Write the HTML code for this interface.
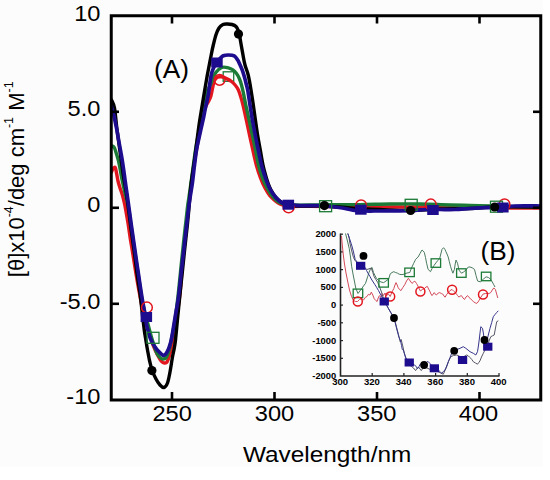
<!DOCTYPE html>
<html><head><meta charset="utf-8"><style>
html,body{margin:0;padding:0;background:#fff;width:550px;height:480px;overflow:hidden;}
svg{display:block;}
text{font-family:"Liberation Sans",sans-serif;fill:#000;}
.tl{font-size:22.5px;}
.xl{font-size:22px;}
.pl{font-size:25.1px;}
.pl2{font-size:24px;}
.yl{font-size:21.5px;}
.sup{font-size:12.2px;}
.it{font-size:8.5px;font-weight:bold;}
</style></head><body>
<svg width="550" height="480" viewBox="0 0 550 480">
<rect width="550" height="480" fill="#fff"/>
<rect width="543" height="466.5" fill="#fcfcfc"/>
<defs><clipPath id="pc"><rect x="111.25" y="15.75" width="429.5" height="384.25"/></clipPath></defs>
<g clip-path="url(#pc)"><rect x="223.2" y="71.8" width="10.5" height="9.5" fill="none" stroke="#1b7a36" stroke-width="1.3"/><path d="M111.5,172.0 C111.8,171.3 112.9,168.7 113.5,168.0 C114.1,167.3 114.8,166.8 115.3,167.6 C115.8,168.4 116.0,170.8 116.5,173.0 C117.0,175.2 117.4,178.5 118.0,181.0 C118.6,183.5 119.3,185.7 120.0,188.0 C120.7,190.3 121.6,192.2 122.4,195.0 C123.2,197.8 123.9,200.5 124.8,205.0 C125.7,209.5 126.8,216.2 127.8,222.0 C128.8,227.8 129.6,234.5 130.5,240.0 C131.4,245.5 132.1,249.2 133.0,255.0 C133.9,260.8 135.1,268.7 136.2,275.0 C137.3,281.3 138.3,287.2 139.4,293.0 C140.5,298.8 141.4,304.5 142.8,310.0 C144.2,315.5 146.3,321.0 147.7,326.0 C149.1,331.0 149.9,335.8 151.2,340.0 C152.5,344.2 154.2,347.8 155.6,351.0 C157.0,354.2 158.7,357.1 159.8,359.0 C161.0,360.9 161.7,361.6 162.5,362.3 C163.3,363.0 163.8,363.1 164.6,363.0 C165.3,362.9 166.2,363.2 167.0,362.0 C167.8,360.8 168.7,358.0 169.3,356.0 C170.0,354.0 170.4,352.2 170.9,350.0 C171.4,347.8 171.8,345.3 172.3,343.0 C172.8,340.7 173.3,339.0 173.8,336.0 C174.3,333.0 174.9,328.8 175.5,325.0 C176.1,321.2 176.7,317.2 177.3,313.0 C177.9,308.8 178.6,304.7 179.2,300.0 C179.8,295.3 180.2,291.3 180.8,285.0 C181.4,278.7 181.9,269.8 182.6,262.0 C183.3,254.2 184.4,245.7 185.2,238.0 C186.0,230.3 186.7,222.7 187.4,216.0 C188.1,209.3 188.8,204.0 189.6,198.0 C190.4,192.0 191.2,186.0 192.0,180.0 C192.8,174.0 193.7,167.5 194.5,162.0 C195.3,156.5 196.1,152.2 197.0,147.0 C197.9,141.8 199.0,136.2 200.0,131.0 C201.0,125.8 202.0,120.2 203.0,116.0 C204.0,111.8 205.1,108.5 206.0,106.0 C206.9,103.5 207.9,102.7 208.7,101.0 C209.5,99.3 210.2,98.3 210.9,96.0 C211.6,93.7 212.2,89.6 212.8,87.0 C213.4,84.4 213.7,82.1 214.5,80.5 C215.3,78.9 216.3,77.8 217.5,77.2 C218.7,76.6 220.0,76.6 221.5,76.8 C223.0,77.0 224.8,77.8 226.5,78.6 C228.2,79.4 230.0,80.3 231.5,81.5 C233.0,82.7 234.3,84.1 235.5,85.5 C236.7,86.9 237.5,88.1 238.4,90.0 C239.3,91.9 240.0,94.5 240.8,97.0 C241.6,99.5 242.1,101.2 243.0,105.0 C243.9,108.8 245.2,115.0 246.3,120.0 C247.4,125.0 248.4,130.0 249.5,135.0 C250.6,140.0 251.7,145.0 252.8,150.0 C253.9,155.0 255.0,160.3 256.3,165.0 C257.6,169.7 259.1,174.2 260.5,178.0 C261.9,181.8 263.3,184.9 265.0,188.0 C266.7,191.1 268.4,194.1 270.5,196.5 C272.6,198.9 275.2,201.0 277.5,202.5 C279.8,204.0 281.9,204.8 284.0,205.5 C286.1,206.2 285.7,206.4 290.0,206.5 C294.3,206.6 303.3,206.3 310.0,206.3 C316.7,206.3 324.2,206.4 330.0,206.5 C335.8,206.6 340.0,206.9 345.0,207.0 C350.0,207.1 352.5,207.0 360.0,207.0 C367.5,207.0 380.0,207.0 390.0,207.0 C400.0,207.0 410.0,207.0 420.0,207.0 C430.0,207.0 441.7,206.8 450.0,206.8 C458.3,206.8 463.3,206.8 470.0,206.8 C476.7,206.8 483.3,206.8 490.0,207.0 C496.7,207.2 501.5,207.8 510.0,208.0 C518.5,208.2 535.8,208.0 541.0,208.0" fill="none" stroke="#e2161e" stroke-width="3.4" stroke-linejoin="round" stroke-linecap="round"/><path d="M112.5,146.0 C112.8,146.3 113.8,146.7 114.5,148.0 C115.2,149.3 115.8,151.8 116.5,154.0 C117.2,156.2 117.9,158.3 118.5,161.0 C119.1,163.7 119.7,166.8 120.3,170.0 C120.9,173.2 121.4,176.7 122.1,180.0 C122.8,183.3 123.5,186.7 124.3,190.0 C125.1,193.3 126.0,196.7 126.8,200.0 C127.6,203.3 128.2,205.8 128.9,210.0 C129.6,214.2 130.1,218.3 131.0,225.0 C131.9,231.7 133.4,241.7 134.6,250.0 C135.8,258.3 137.1,266.7 138.3,275.0 C139.6,283.3 140.9,293.2 142.1,300.0 C143.3,306.8 144.6,311.8 145.6,316.0 C146.6,320.2 147.5,322.3 148.2,325.0 C148.9,327.7 149.4,329.7 150.0,332.0 C150.6,334.3 151.3,336.7 152.0,339.0 C152.7,341.3 153.5,343.6 154.3,346.0 C155.1,348.4 156.0,351.5 157.0,353.5 C158.0,355.5 159.4,357.1 160.5,358.0 C161.6,358.9 162.5,359.1 163.5,359.0 C164.5,358.9 165.5,358.7 166.3,357.5 C167.1,356.3 167.8,354.2 168.5,352.0 C169.2,349.8 169.8,347.3 170.4,344.5 C171.0,341.7 171.5,339.1 172.3,335.0 C173.1,330.9 174.2,325.5 175.0,320.0 C175.8,314.5 176.6,308.3 177.3,302.0 C178.1,295.7 178.8,288.7 179.5,282.0 C180.2,275.3 180.8,268.5 181.5,262.0 C182.2,255.5 182.8,249.2 183.5,243.0 C184.2,236.8 184.8,231.0 185.5,225.0 C186.2,219.0 186.8,212.8 187.5,207.0 C188.2,201.2 189.1,196.5 190.0,190.0 C190.9,183.5 192.1,174.7 193.0,168.0 C193.9,161.3 194.7,155.3 195.5,150.0 C196.3,144.7 197.2,140.0 198.0,136.0 C198.8,132.0 199.7,129.7 200.5,126.0 C201.3,122.3 202.2,118.7 203.0,114.0 C203.8,109.3 204.8,101.8 205.5,98.0 C206.2,94.2 206.4,93.2 207.2,91.0 C208.0,88.8 209.4,86.9 210.3,85.0 C211.2,83.1 211.6,81.6 212.5,79.5 C213.4,77.4 214.3,74.5 215.8,72.5 C217.3,70.5 219.8,68.3 221.7,67.5 C223.6,66.7 225.7,67.2 227.5,67.6 C229.3,68.0 231.0,68.7 232.5,69.7 C234.0,70.7 235.3,72.0 236.5,73.5 C237.7,75.0 238.7,77.1 239.5,79.0 C240.3,80.9 240.9,82.8 241.5,85.0 C242.1,87.2 242.5,88.7 243.2,92.0 C243.9,95.3 244.8,100.3 245.8,105.0 C246.8,109.7 248.0,115.0 249.1,120.0 C250.2,125.0 251.2,130.0 252.3,135.0 C253.4,140.0 254.5,145.0 255.5,150.0 C256.5,155.0 257.3,160.3 258.5,165.0 C259.7,169.7 261.1,174.2 262.5,178.0 C263.9,181.8 265.3,184.9 267.0,188.0 C268.7,191.1 270.6,194.2 272.5,196.5 C274.4,198.8 276.4,200.7 278.5,202.0 C280.6,203.3 282.8,204.0 285.0,204.5 C287.2,205.0 287.8,204.9 292.0,205.0 C296.2,205.1 303.7,205.1 310.0,205.0 C316.3,204.9 321.7,204.7 330.0,204.6 C338.3,204.5 350.0,204.7 360.0,204.6 C370.0,204.5 380.0,204.1 390.0,204.0 C400.0,203.9 410.0,203.8 420.0,204.0 C430.0,204.2 441.7,204.8 450.0,205.0 C458.3,205.2 463.3,205.3 470.0,205.5 C476.7,205.7 483.3,205.8 490.0,206.0 C496.7,206.2 501.5,206.3 510.0,206.5 C518.5,206.7 535.8,206.9 541.0,207.0" fill="none" stroke="#1b7a36" stroke-width="3.4" stroke-linejoin="round" stroke-linecap="round"/><path d="M111.5,100.0 C112.0,101.3 113.6,103.3 114.5,108.0 C115.4,112.7 115.9,121.0 116.8,128.0 C117.7,135.0 118.7,142.2 119.8,150.0 C120.9,157.8 122.2,167.5 123.3,175.0 C124.4,182.5 125.4,186.7 126.6,195.0 C127.8,203.3 129.3,215.8 130.5,225.0 C131.7,234.2 132.9,241.7 134.0,250.0 C135.1,258.3 136.2,267.5 137.2,275.0 C138.2,282.5 139.3,287.8 140.2,295.0 C141.1,302.2 142.1,312.0 142.8,318.0 C143.5,324.0 143.9,327.2 144.4,331.0 C144.9,334.8 145.5,337.8 146.0,341.0 C146.5,344.2 146.9,346.8 147.5,350.0 C148.1,353.2 148.7,356.7 149.4,360.0 C150.2,363.3 150.9,366.8 152.0,370.0 C153.1,373.2 154.7,376.5 156.0,379.0 C157.3,381.5 158.7,383.6 160.0,385.0 C161.3,386.4 162.8,387.8 164.0,387.5 C165.2,387.2 166.5,385.6 167.5,383.0 C168.5,380.4 169.2,376.2 170.0,372.0 C170.8,367.8 171.6,362.0 172.3,358.0 C173.0,354.0 173.8,351.0 174.3,348.0 C174.8,345.0 175.0,344.7 175.5,340.0 C176.0,335.3 176.8,326.7 177.4,320.0 C178.1,313.3 178.6,307.5 179.4,300.0 C180.2,292.5 181.1,283.3 182.0,275.0 C182.9,266.7 183.8,257.5 184.6,250.0 C185.4,242.5 186.1,236.3 186.8,230.0 C187.5,223.7 187.9,219.5 188.6,212.0 C189.3,204.5 190.0,193.7 191.0,185.0 C192.0,176.3 193.4,168.3 194.5,160.0 C195.6,151.7 196.8,142.0 197.7,135.0 C198.6,128.0 199.1,124.2 200.1,118.0 C201.1,111.8 202.3,104.7 203.4,98.0 C204.5,91.3 206.0,82.7 206.8,78.0 C207.6,73.3 207.6,73.8 208.3,70.0 C209.0,66.2 210.4,59.2 211.2,55.0 C212.0,50.8 212.5,48.3 213.3,45.0 C214.1,41.7 215.0,37.8 215.9,35.0 C216.8,32.2 217.8,29.8 219.0,28.0 C220.2,26.2 221.6,25.2 223.0,24.5 C224.4,23.8 226.0,24.0 227.5,24.0 C229.0,24.0 230.6,24.1 232.0,24.5 C233.4,24.9 234.9,25.4 236.0,26.5 C237.1,27.6 237.8,29.1 238.5,31.0 C239.2,32.9 239.6,35.7 240.0,38.0 C240.4,40.3 240.7,42.2 241.2,45.0 C241.7,47.8 242.4,51.7 243.0,55.0 C243.6,58.3 244.1,61.7 245.0,65.0 C245.9,68.3 247.2,70.8 248.2,75.0 C249.2,79.2 250.2,85.0 251.0,90.0 C251.8,95.0 252.6,100.0 253.3,105.0 C254.0,110.0 254.7,115.0 255.4,120.0 C256.1,125.0 256.8,130.0 257.6,135.0 C258.4,140.0 259.4,145.0 260.3,150.0 C261.2,155.0 262.1,160.8 263.0,165.0 C263.9,169.2 264.7,172.0 265.5,175.0 C266.3,178.0 267.1,180.5 268.0,183.0 C268.9,185.5 269.7,187.6 271.0,190.0 C272.3,192.4 274.2,195.4 276.0,197.5 C277.8,199.6 280.0,201.2 282.0,202.5 C284.0,203.8 285.0,204.4 288.0,205.0 C291.0,205.6 293.8,205.8 300.0,206.0 C306.2,206.2 316.7,205.7 325.0,206.0 C333.3,206.3 340.8,207.4 350.0,208.0 C359.2,208.6 370.0,209.1 380.0,209.5 C390.0,209.9 400.0,210.6 410.0,210.5 C420.0,210.4 430.0,209.3 440.0,209.0 C450.0,208.7 460.7,208.8 470.0,208.5 C479.3,208.2 484.2,207.2 496.0,207.0 C507.8,206.8 533.5,207.0 541.0,207.0" fill="none" stroke="#000000" stroke-width="3.4" stroke-linejoin="round" stroke-linecap="round"/><path d="M111.5,107.0 C111.9,108.5 113.2,112.5 114.0,116.0 C114.8,119.5 115.7,124.0 116.5,128.0 C117.3,132.0 117.6,134.3 118.6,140.0 C119.6,145.7 121.4,155.0 122.5,162.0 C123.6,169.0 124.5,176.0 125.3,182.0 C126.1,188.0 126.6,190.8 127.6,198.0 C128.6,205.2 130.1,216.3 131.3,225.0 C132.5,233.7 133.7,241.7 134.9,250.0 C136.1,258.3 137.3,266.7 138.6,275.0 C139.8,283.3 141.4,294.2 142.4,300.0 C143.4,305.8 143.8,307.0 144.3,310.0 C144.8,313.0 145.1,315.5 145.5,318.0 C145.9,320.5 146.2,322.8 146.6,325.0 C147.0,327.2 147.6,328.9 148.2,331.0 C148.8,333.1 149.2,335.4 150.0,337.5 C150.8,339.6 151.9,341.8 152.8,343.5 C153.7,345.2 154.6,346.4 155.6,347.8 C156.6,349.2 157.8,350.6 159.0,351.8 C160.2,353.1 161.9,354.9 163.0,355.3 C164.1,355.7 164.9,355.0 165.8,354.0 C166.7,353.0 167.5,351.3 168.3,349.5 C169.1,347.7 169.8,345.4 170.5,343.0 C171.2,340.6 171.6,338.2 172.2,335.0 C172.8,331.8 173.4,327.8 174.0,324.0 C174.6,320.2 175.3,316.0 176.0,312.0 C176.7,308.0 177.4,305.0 178.1,300.0 C178.8,295.0 179.6,287.5 180.2,282.0 C180.8,276.5 181.2,272.3 181.8,267.0 C182.4,261.7 183.1,255.8 183.8,250.0 C184.4,244.2 185.1,237.8 185.8,232.0 C186.5,226.2 187.1,220.7 187.8,215.0 C188.5,209.3 189.2,203.5 190.0,198.0 C190.8,192.5 191.8,187.5 192.5,182.0 C193.2,176.5 193.8,170.3 194.5,165.0 C195.2,159.7 195.8,154.2 196.5,150.0 C197.2,145.8 197.8,143.2 198.5,140.0 C199.2,136.8 199.8,134.3 200.5,131.0 C201.2,127.7 202.2,123.5 203.0,120.0 C203.8,116.5 204.4,113.0 205.0,110.0 C205.6,107.0 206.2,104.7 206.8,102.0 C207.4,99.3 208.0,96.7 208.4,94.0 C208.8,91.3 209.2,88.5 209.5,86.0 C209.8,83.5 210.1,81.3 210.5,79.0 C210.9,76.7 211.3,74.2 212.0,72.0 C212.7,69.8 213.7,67.6 214.5,66.0 C215.3,64.4 216.1,63.8 217.0,62.5 C217.9,61.2 218.9,59.6 220.0,58.5 C221.1,57.4 221.9,56.4 223.3,55.8 C224.7,55.2 226.5,55.0 228.3,55.0 C230.1,55.0 232.7,55.0 234.2,55.8 C235.7,56.6 236.5,58.2 237.5,59.7 C238.5,61.2 239.2,63.0 240.0,64.7 C240.8,66.4 241.4,67.9 242.1,69.7 C242.8,71.5 243.3,73.3 244.0,75.5 C244.7,77.7 245.4,80.6 246.0,83.0 C246.6,85.4 247.0,86.3 247.7,90.0 C248.4,93.7 249.2,100.0 250.0,105.0 C250.8,110.0 251.5,115.0 252.4,120.0 C253.3,125.0 254.2,130.0 255.2,135.0 C256.2,140.0 257.2,145.0 258.3,150.0 C259.4,155.0 260.3,160.3 261.5,165.0 C262.7,169.7 264.1,174.0 265.5,178.0 C266.9,182.0 268.3,185.8 270.0,189.0 C271.7,192.2 273.6,194.8 275.5,197.0 C277.4,199.2 279.4,201.2 281.5,202.5 C283.6,203.8 284.9,204.2 288.0,204.7 C291.1,205.2 294.7,205.4 300.0,205.6 C305.3,205.8 315.0,205.4 320.0,205.6 C325.0,205.8 325.8,206.0 330.0,206.5 C334.2,207.0 340.8,207.8 345.0,208.5 C349.2,209.2 351.7,210.1 355.0,210.5 C358.3,210.9 360.8,210.9 365.0,211.0 C369.2,211.1 374.2,211.0 380.0,211.0 C385.8,211.0 394.2,210.9 400.0,210.8 C405.8,210.7 410.8,210.7 415.0,210.5 C419.2,210.3 420.8,209.7 425.0,209.5 C429.2,209.3 435.0,209.5 440.0,209.5 C445.0,209.5 450.0,209.7 455.0,209.5 C460.0,209.3 465.0,208.8 470.0,208.5 C475.0,208.2 480.0,207.8 485.0,207.6 C490.0,207.4 495.0,207.8 500.0,207.5 C505.0,207.2 508.2,206.2 515.0,206.0 C521.8,205.8 536.7,206.0 541.0,206.0" fill="none" stroke="#1e0c8e" stroke-width="3.7" stroke-linejoin="round" stroke-linecap="round"/><circle cx="146.9" cy="307.5" r="5.4" fill="none" stroke="#e2161e" stroke-width="1.5"/><circle cx="219.6" cy="79.8" r="5.4" fill="none" stroke="#e2161e" stroke-width="1.5"/><circle cx="288.6" cy="207.4" r="5.4" fill="none" stroke="#e2161e" stroke-width="1.5"/><circle cx="361.1" cy="205.4" r="5.4" fill="none" stroke="#e2161e" stroke-width="1.5"/><circle cx="430.8" cy="204.5" r="5.4" fill="none" stroke="#e2161e" stroke-width="1.5"/><circle cx="504.5" cy="204.4" r="5.4" fill="none" stroke="#e2161e" stroke-width="1.5"/><rect x="147.0" y="332.3" width="12.0" height="11.0" fill="none" stroke="#1b7a36" stroke-width="1.3"/><rect x="319.6" y="200.7" width="12.0" height="11.0" fill="none" stroke="#1b7a36" stroke-width="1.3"/><rect x="405.2" y="199.3" width="12.0" height="11.0" fill="none" stroke="#1b7a36" stroke-width="1.3"/><rect x="490.5" y="201.2" width="12.0" height="11.0" fill="none" stroke="#1b7a36" stroke-width="1.3"/><rect x="140.6" y="312.0" width="11.5" height="10.0" fill="#1e0c8e"/><rect x="211.2" y="57.5" width="11.5" height="10.0" fill="#1e0c8e"/><rect x="282.6" y="199.7" width="11.5" height="10.0" fill="#1e0c8e"/><rect x="355.1" y="204.7" width="11.5" height="10.0" fill="#1e0c8e"/><rect x="427.2" y="205.0" width="11.5" height="10.0" fill="#1e0c8e"/><rect x="497.1" y="202.5" width="11.5" height="10.0" fill="#1e0c8e"/><circle cx="151.9" cy="370.6" r="4.6" fill="#000000"/><circle cx="238.5" cy="34.1" r="4.6" fill="#000000"/><circle cx="324.4" cy="205.6" r="4.6" fill="#000000"/><circle cx="410.6" cy="210.5" r="4.6" fill="#000000"/><circle cx="494.7" cy="207.0" r="4.6" fill="#000000"/></g>
<path d="M340.5,233.5 V376 H499.5" fill="none" stroke="#222" stroke-width="1.6"/><line x1="340.5" x2="343" y1="234.2" y2="234.2" stroke="#222" stroke-width="1.2"/><line x1="340.5" x2="343" y1="251.9" y2="251.9" stroke="#222" stroke-width="1.2"/><line x1="340.5" x2="343" y1="269.6" y2="269.6" stroke="#222" stroke-width="1.2"/><line x1="340.5" x2="343" y1="287.4" y2="287.4" stroke="#222" stroke-width="1.2"/><line x1="340.5" x2="343" y1="305.1" y2="305.1" stroke="#222" stroke-width="1.2"/><line x1="340.5" x2="343" y1="322.8" y2="322.8" stroke="#222" stroke-width="1.2"/><line x1="340.5" x2="343" y1="340.6" y2="340.6" stroke="#222" stroke-width="1.2"/><line x1="340.5" x2="343" y1="358.3" y2="358.3" stroke="#222" stroke-width="1.2"/><line x1="372.2" x2="372.2" y1="376" y2="373" stroke="#222" stroke-width="1.2"/><line x1="403.9" x2="403.9" y1="376" y2="373" stroke="#222" stroke-width="1.2"/><line x1="435.6" x2="435.6" y1="376" y2="373" stroke="#222" stroke-width="1.2"/><line x1="467.3" x2="467.3" y1="376" y2="373" stroke="#222" stroke-width="1.2"/><line x1="499.0" x2="499.0" y1="376" y2="373" stroke="#222" stroke-width="1.2"/><text transform="translate(336.2,237.2) scale(1.1,1)" text-anchor="end" class="it">2000</text><text transform="translate(336.2,254.9) scale(1.1,1)" text-anchor="end" class="it">1500</text><text transform="translate(336.2,272.6) scale(1.1,1)" text-anchor="end" class="it">1000</text><text transform="translate(336.2,290.4) scale(1.1,1)" text-anchor="end" class="it">500</text><text transform="translate(336.2,308.1) scale(1.1,1)" text-anchor="end" class="it">0</text><text transform="translate(336.2,325.8) scale(1.1,1)" text-anchor="end" class="it">-500</text><text transform="translate(336.2,343.6) scale(1.1,1)" text-anchor="end" class="it">-1000</text><text transform="translate(336.2,361.3) scale(1.1,1)" text-anchor="end" class="it">-1500</text><text transform="translate(336.2,379.0) scale(1.1,1)" text-anchor="end" class="it">-2000</text><text transform="translate(340.2,384.6) scale(1.12,1)" text-anchor="middle" class="it">300</text><text transform="translate(371.9,384.6) scale(1.12,1)" text-anchor="middle" class="it">320</text><text transform="translate(403.6,384.6) scale(1.12,1)" text-anchor="middle" class="it">340</text><text transform="translate(435.3,384.6) scale(1.12,1)" text-anchor="middle" class="it">360</text><text transform="translate(467.0,384.6) scale(1.12,1)" text-anchor="middle" class="it">380</text><text transform="translate(498.7,384.6) scale(1.12,1)" text-anchor="middle" class="it">400</text><path d="M341.5,236.0 L342.3,245.0 L343.3,255.0 L344.5,264.0 L346.0,273.0 L347.8,282.0 L349.5,290.0 L351.5,296.5 L353.5,300.5 L355.5,301.5 L357.5,301.5 L359.5,299.5 L361.8,298.6 L363.5,300.0 L365.5,297.2 L367.0,296.5 L368.4,294.3 L370.0,295.0 L371.3,292.1 L372.8,295.0 L374.2,298.6 L375.8,300.5 L377.1,301.5 L378.2,298.0 L379.3,295.7 L380.8,297.0 L382.2,293.5 L383.5,295.5 L385.0,293.0 L386.5,296.0 L388.0,293.5 L390.2,296.5 L392.0,292.0 L393.8,288.5 L395.0,285.0 L396.0,282.6 L397.2,285.0 L398.2,287.7 L399.5,289.5 L401.0,290.6 L402.8,287.5 L404.7,284.8 L406.5,281.0 L408.4,278.3 L410.2,281.0 L412.0,283.4 L413.5,282.0 L414.9,281.2 L416.5,283.5 L417.3,284.8 L418.8,288.0 L420.4,291.0 L422.3,289.5 L424.3,288.7 L426.0,287.0 L427.4,286.4 L428.6,289.0 L429.7,291.0 L431.0,294.0 L432.0,295.6 L433.2,294.0 L434.3,292.6 L435.5,294.5 L436.6,294.9 L438.2,293.0 L439.7,292.6 L441.3,293.5 L442.8,294.1 L444.0,296.0 L445.1,297.2 L446.6,294.5 L448.2,292.6 L450.0,290.5 L452.1,289.5 L454.0,291.5 L456.0,293.3 L457.5,295.5 L459.0,297.2 L460.2,296.0 L461.4,295.6 L463.0,298.0 L464.5,299.5 L466.0,297.0 L467.6,295.6 L469.0,297.5 L470.6,298.7 L472.2,300.5 L473.7,301.8 L475.2,302.8 L476.8,303.4 L478.0,302.0 L479.1,300.3 L481.0,297.0 L483.0,294.1 L485.3,293.5 L487.6,293.3 L489.2,293.5 L490.7,292.6 L492.3,290.0 L493.8,287.9 L495.4,289.5 L496.9,294.9 L497.8,298.0" fill="none" stroke="#d44a5a" stroke-width="1" stroke-linejoin="round"/><path d="M345.5,233.5 L347.2,240.0 L349.2,248.3 L350.5,257.0 L351.7,266.7 L353.0,274.0 L354.2,280.0 L355.8,288.3 L358.0,293.5 L359.8,291.0 L361.8,288.5 L363.5,286.0 L365.5,283.4 L366.6,280.0 L367.6,276.8 L369.0,272.5 L370.5,268.8 L372.0,267.4 L373.5,272.5 L375.0,275.5 L376.4,278.3 L378.5,280.5 L381.0,282.0 L383.6,282.6 L386.0,281.0 L388.7,279.0 L390.2,273.9 L392.0,272.5 L393.8,271.7 L395.6,272.5 L397.5,273.2 L399.2,274.2 L401.0,274.6 L403.0,274.5 L404.7,273.9 L407.0,273.0 L409.8,272.5 L411.5,268.0 L413.5,263.7 L415.6,259.4 L417.0,258.0 L418.1,257.0 L420.0,253.5 L422.0,250.0 L423.2,251.0 L424.3,252.4 L425.5,257.5 L426.6,263.2 L428.1,269.4 L430.5,271.7 L432.0,268.6 L434.0,265.5 L435.9,262.9 L437.8,260.5 L439.7,258.5 L440.8,254.0 L442.0,249.3 L443.6,247.7 L445.0,249.5 L445.9,251.6 L447.0,254.0 L448.2,257.0 L449.3,261.5 L450.5,266.3 L451.7,270.0 L452.9,273.2 L454.4,269.4 L455.2,264.0 L456.0,260.1 L457.5,263.2 L459.0,270.1 L461.4,273.2 L463.5,272.0 L466.0,270.1 L468.3,267.0 L470.0,267.0 L472.2,267.8 L474.5,269.4 L476.0,275.5 L477.6,281.0 L479.0,281.5 L480.7,281.7 L483.5,279.0 L486.1,276.8 L488.5,277.5 L490.7,279.4 L492.3,282.0 L493.8,284.8 L495.0,287.0" fill="none" stroke="#4a7a5e" stroke-width="1" stroke-linejoin="round"/><path d="M347.8,233.5 L349.0,237.0 L349.5,241.0 L350.5,246.0 L351.5,250.0 L352.5,254.0 L353.5,257.5 L355.0,260.5 L357.0,262.5 L360.0,264.5 L363.0,266.5 L364.7,267.4 L366.9,269.5 L369.0,268.8 L371.3,268.1 L372.8,272.5 L374.2,276.8 L376.0,279.7 L377.8,282.6 L379.6,287.0 L381.5,292.0 L383.0,297.0 L384.4,301.3 L386.5,305.0 L388.5,308.8 L390.5,312.2 L392.3,315.2 L394.0,318.0 L395.5,323.0 L397.0,329.0 L398.5,334.5 L399.5,339.0 L400.3,342.0 L401.2,339.5 L402.0,343.0 L403.0,347.0 L404.0,352.0 L405.5,357.0 L407.5,361.0 L409.0,364.5 L411.5,366.5 L413.5,368.0 L415.6,370.6 L417.0,368.5 L418.5,367.0 L420.0,369.0 L421.3,370.6 L423.0,368.0 L424.5,366.8 L426.0,367.5 L428.0,368.5 L430.5,369.5 L432.5,370.0 L435.0,370.5 L437.0,371.0 L438.3,371.7 L440.5,373.0 L443.3,374.2 L445.0,370.5 L446.7,366.7 L448.5,361.5 L450.8,356.7 L453.5,355.5 L456.7,355.0 L459.0,356.0 L461.7,357.5 L464.0,356.5 L466.7,355.0 L468.5,356.0 L470.0,357.5 L471.8,359.5 L473.3,361.7 L475.5,363.0 L477.5,364.2 L478.8,362.5 L480.0,360.8 L481.5,357.0 L483.3,353.3 L485.5,349.0 L487.5,346.7 L489.0,341.0 L490.8,336.7 L492.5,335.8 L494.2,335.0 L495.5,328.0 L496.7,321.7 L498.3,320.8" fill="none" stroke="#555566" stroke-width="1" stroke-linejoin="round"/><path d="M347.8,233.5 L349.5,238.5 L351.1,243.3 L352.2,247.0 L353.5,252.0 L354.4,256.0 L355.2,259.5 L357.5,262.5 L360.7,265.8 L362.8,267.0 L364.7,267.4 L366.5,270.5 L368.4,273.9 L370.0,276.5 L371.3,279.0 L373.2,282.0 L375.0,284.8 L376.8,287.7 L378.5,290.6 L380.3,294.0 L382.2,297.2 L384.4,301.3 L386.5,305.0 L388.5,308.5 L390.5,312.0 L392.3,315.0 L394.0,318.0 L395.5,324.0 L397.0,330.0 L398.8,336.9 L400.6,341.0 L401.5,345.5 L402.3,349.5 L403.4,350.0 L404.5,354.0 L406.2,359.4 L409.0,362.2 L411.5,363.5 L414.7,365.0 L416.5,367.0 L417.5,368.8 L419.0,366.5 L420.3,364.0 L422.0,364.5 L424.0,365.0 L426.0,363.0 L427.8,361.3 L430.0,363.5 L432.0,366.0 L434.4,368.5 L436.5,369.5 L438.3,370.0 L440.0,371.5 L441.7,373.3 L443.3,371.5 L445.0,370.0 L446.7,366.0 L448.3,361.7 L450.0,357.5 L451.7,353.3 L454.2,350.8 L457.0,349.5 L460.0,348.3 L463.3,346.7 L465.8,348.3 L468.0,350.0 L470.0,351.7 L473.3,353.3 L475.8,355.0 L477.5,351.7 L478.4,346.0 L479.2,340.0 L480.0,333.0 L480.8,326.7 L482.5,328.3 L483.5,334.0 L484.2,340.0 L486.0,339.5 L487.5,338.3 L488.8,333.0 L490.0,328.3 L491.7,322.5 L493.3,316.7 L495.0,314.5 L496.7,312.5 L498.3,310.8" fill="none" stroke="#36368a" stroke-width="1" stroke-linejoin="round"/><rect x="353.2" y="289.1" width="9.5" height="8.5" fill="none" stroke="#1b7a36" stroke-width="1.3"/><rect x="378.9" y="278.6" width="9.5" height="8.5" fill="none" stroke="#1b7a36" stroke-width="1.3"/><rect x="404.8" y="268.1" width="9.5" height="8.5" fill="none" stroke="#1b7a36" stroke-width="1.3"/><rect x="431.1" y="258.8" width="9.5" height="8.5" fill="none" stroke="#1b7a36" stroke-width="1.3"/><rect x="456.6" y="268.8" width="9.5" height="8.5" fill="none" stroke="#1b7a36" stroke-width="1.3"/><rect x="481.4" y="272.2" width="9.5" height="8.5" fill="none" stroke="#1b7a36" stroke-width="1.3"/><circle cx="357.8" cy="301.5" r="4.5" fill="none" stroke="#e2161e" stroke-width="1.5"/><circle cx="390.2" cy="296.5" r="4.5" fill="none" stroke="#e2161e" stroke-width="1.5"/><circle cx="420.4" cy="291.5" r="4.5" fill="none" stroke="#e2161e" stroke-width="1.5"/><circle cx="452.1" cy="289.7" r="4.5" fill="none" stroke="#e2161e" stroke-width="1.5"/><circle cx="483.0" cy="294.5" r="4.5" fill="none" stroke="#e2161e" stroke-width="1.5"/><rect x="356.0" y="261.8" width="9.3" height="8.0" fill="#1e0c8e"/><rect x="379.6" y="297.5" width="9.3" height="8.0" fill="#1e0c8e"/><rect x="404.6" y="358.5" width="9.3" height="8.0" fill="#1e0c8e"/><rect x="429.7" y="364.3" width="9.3" height="8.0" fill="#1e0c8e"/><rect x="457.9" y="356.0" width="9.3" height="8.0" fill="#1e0c8e"/><rect x="483.1" y="342.7" width="9.3" height="8.0" fill="#1e0c8e"/><circle cx="363.5" cy="255.9" r="3.9" fill="#000000"/><circle cx="394.0" cy="318.0" r="3.9" fill="#000000"/><circle cx="424.1" cy="365.0" r="3.9" fill="#000000"/><circle cx="454.2" cy="350.8" r="3.9" fill="#000000"/><circle cx="484.5" cy="340.0" r="3.9" fill="#000000"/>
<rect x="111.25" y="15.75" width="429.5" height="384.25" fill="none" stroke="#000" stroke-width="3"/><line x1="172.0" x2="172.0" y1="400" y2="392" stroke="#000" stroke-width="2.6"/><line x1="172.0" x2="172.0" y1="15.75" y2="23.5" stroke="#000" stroke-width="2.6"/><line x1="274.5" x2="274.5" y1="400" y2="392" stroke="#000" stroke-width="2.6"/><line x1="274.5" x2="274.5" y1="15.75" y2="23.5" stroke="#000" stroke-width="2.6"/><line x1="377.0" x2="377.0" y1="400" y2="392" stroke="#000" stroke-width="2.6"/><line x1="377.0" x2="377.0" y1="15.75" y2="23.5" stroke="#000" stroke-width="2.6"/><line x1="479.5" x2="479.5" y1="400" y2="392" stroke="#000" stroke-width="2.6"/><line x1="479.5" x2="479.5" y1="15.75" y2="23.5" stroke="#000" stroke-width="2.6"/><line x1="111.25" x2="119" y1="111.8" y2="111.8" stroke="#000" stroke-width="2.6"/><line x1="533" x2="540.75" y1="111.8" y2="111.8" stroke="#000" stroke-width="2.6"/><line x1="111.25" x2="119" y1="207.8" y2="207.8" stroke="#000" stroke-width="2.6"/><line x1="533" x2="540.75" y1="207.8" y2="207.8" stroke="#000" stroke-width="2.6"/><line x1="111.25" x2="119" y1="303.8" y2="303.8" stroke="#000" stroke-width="2.6"/><line x1="533" x2="540.75" y1="303.8" y2="303.8" stroke="#000" stroke-width="2.6"/>
<text transform="translate(100.4,20.6) scale(1.05,1)" text-anchor="end" class="tl">10</text><text transform="translate(100.4,116.1) scale(1.05,1)" text-anchor="end" class="tl">5.0</text><text transform="translate(100.4,212.4) scale(1.05,1)" text-anchor="end" class="tl">0</text><text transform="translate(100.4,308.8) scale(1.05,1)" text-anchor="end" class="tl">-5.0</text><text transform="translate(100.4,403.8) scale(1.05,1)" text-anchor="end" class="tl">-10</text><text transform="translate(172.10,420.75) scale(1.05,1)" text-anchor="middle" class="tl">250</text><text transform="translate(274.55,420.75) scale(1.05,1)" text-anchor="middle" class="tl">300</text><text transform="translate(376.75,420.75) scale(1.05,1)" text-anchor="middle" class="tl">350</text><text transform="translate(478.55,420.75) scale(1.05,1)" text-anchor="middle" class="tl">400</text><text transform="translate(327.1,461.9) scale(1.108,1)" text-anchor="middle" class="xl">Wavelength/nm</text><text transform="translate(171.4,77.9) scale(1.047,1)" text-anchor="middle" class="pl">(A)</text><text transform="translate(498,260.1) scale(1.047,1)" text-anchor="middle" class="pl">(B)</text><text transform="translate(24.4,277.2) rotate(-90) scale(1.023,1)" class="yl">[&#952;]x10<tspan dy="-11.3" class="sup">-4</tspan><tspan dy="11.3">/deg cm</tspan><tspan dy="-11.3" class="sup">-1</tspan><tspan dy="11.3"> M</tspan><tspan dy="-11.3" class="sup">-1</tspan></text>
</svg>
</body></html>
